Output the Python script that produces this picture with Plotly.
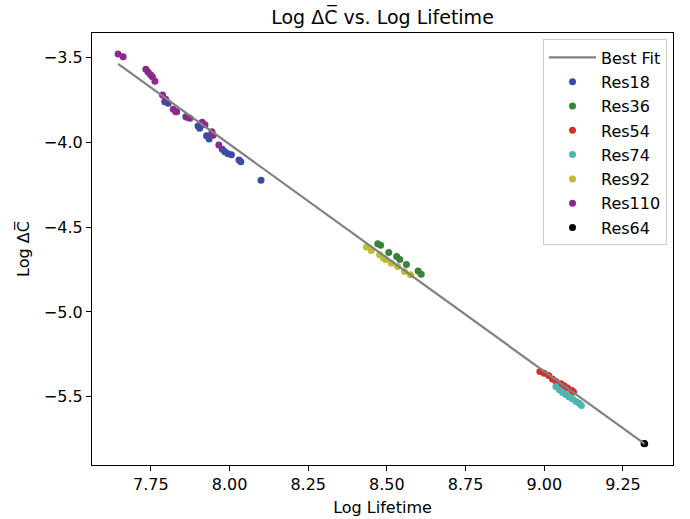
import numpy as np
import plotly.graph_objects as go

# ---- data ----
res18_x = [7.794, 7.805, 7.832, 7.861, 7.900, 7.905, 7.927, 7.935, 7.977, 7.985, 7.995, 8.006, 8.030, 8.036, 8.100]
res18_y = [-3.759, -3.769, -3.818, -3.848, -3.903, -3.916, -3.960, -3.979, -4.040, -4.054, -4.066, -4.072, -4.103, -4.113, -4.223]

res36_x = [8.471, 8.480, 8.506, 8.531, 8.541, 8.562, 8.599, 8.609]
res36_y = [-4.598, -4.607, -4.649, -4.673, -4.690, -4.720, -4.759, -4.778]

res54_x = [8.986, 9.000, 9.014, 9.026, 9.037, 9.053, 9.063, 9.074, 9.088, 9.093]
res54_y = [-5.351, -5.361, -5.375, -5.396, -5.410, -5.424, -5.436, -5.449, -5.463, -5.473]

res74_x = [9.037, 9.048, 9.058, 9.069, 9.079, 9.090, 9.101, 9.111, 9.118]
res74_y = [-5.440, -5.459, -5.475, -5.489, -5.502, -5.514, -5.528, -5.538, -5.552]

res92_x = [8.435, 8.450, 8.477, 8.489, 8.496, 8.514, 8.534, 8.556, 8.575]
res92_y = [-4.617, -4.637, -4.662, -4.681, -4.690, -4.712, -4.732, -4.761, -4.781]

res110_x = [7.646, 7.662, 7.734, 7.741, 7.749, 7.755, 7.763, 7.787, 7.797, 7.821, 7.829,
            7.865, 7.874, 7.913, 7.922, 7.944, 7.948, 7.966]
res110_y = [-3.478, -3.494, -3.568, -3.584, -3.600, -3.612, -3.639, -3.720, -3.745, -3.804, -3.818,
            -3.851, -3.857, -3.881, -3.895, -3.936, -3.958, -4.015]

res64_x = [9.317, 9.319]
res64_y = [-5.776, -5.778]

fit_slope = -1.340
fit_intercept = 6.709

x_ticks = [7.75, 8.00, 8.25, 8.50, 8.75, 9.00, 9.25]
y_ticks = [-3.5, -4.0, -4.5, -5.0, -5.5]

series = [
    ("Res18", res18_x, res18_y, "#3A4DA2"),
    ("Res36", res36_x, res36_y, "#3A823A"),
    ("Res54", res54_x, res54_y, "#D42E2A"),
    ("Res74", res74_x, res74_y, "#4FB4B2"),
    ("Res92", res92_x, res92_y, "#BDBD33"),
    ("Res110", res110_x, res110_y, "#8C2A8C"),
    ("Res64", res64_x, res64_y, "#000000"),
]

FONT = "DejaVu Sans"
fig = go.Figure()

for i, (name, xs, ys, col) in enumerate(series):
    fig.add_trace(go.Scatter(
        x=xs, y=ys, mode="markers", name=name,
        marker=dict(color=col, size=7, line=dict(width=0)),
        legendgroup=name, legendrank=i + 2,
    ))

all_x = np.concatenate([np.array(s[1]) for s in series])
fx = np.array([all_x.min(), all_x.max()])
fy = fit_intercept + fit_slope * fx
fig.add_trace(go.Scatter(
    x=fx, y=fy, mode="lines", name="Best Fit",
    line=dict(color="#808080", width=2.2),
    legendgroup="fit", legendrank=1,
))

axis_common = dict(
    showline=True, mirror=True, linecolor="black", linewidth=1.2,
    ticks="outside", ticklen=5, tickwidth=1.1, tickcolor="black",
    showgrid=False, zeroline=False, automargin=False,
    tickfont=dict(family=FONT, size=16, color="black"),
)

fig.update_layout(
    width=690, height=519,
    margin=dict(l=92, r=17, t=33, b=54),
    paper_bgcolor="white", plot_bgcolor="white",
    font=dict(family=FONT, size=16, color="black"),
    title=dict(text="Log ΔC̅ vs. Log Lifetime", x=0.5, xref="paper",
               y=1 - 17 / 519, yref="container", yanchor="middle",
               font=dict(family=FONT, size=19, color="black")),
    xaxis=dict(range=[7.563, 9.409], tickvals=x_ticks, tickformat=".2f",
               title=dict(text="Log Lifetime", standoff=8,
                          font=dict(family=FONT, size=16)),
               **axis_common),
    yaxis=dict(range=[-5.903, -3.354], tickvals=y_ticks, tickformat=".1f",
               title=dict(text="Log ΔC̅", standoff=10,
                          font=dict(family=FONT, size=16)),
               **axis_common),
    legend=dict(x=0.9897, xanchor="right", y=0.985, yanchor="top",
                bgcolor="rgba(255,255,255,0.8)", bordercolor="#cccccc", borderwidth=1,
                font=dict(family=FONT, size=16, color="black"),
                tracegroupgap=0.5, itemwidth=47),
    showlegend=True,
)

fig.write_html("out.html")
